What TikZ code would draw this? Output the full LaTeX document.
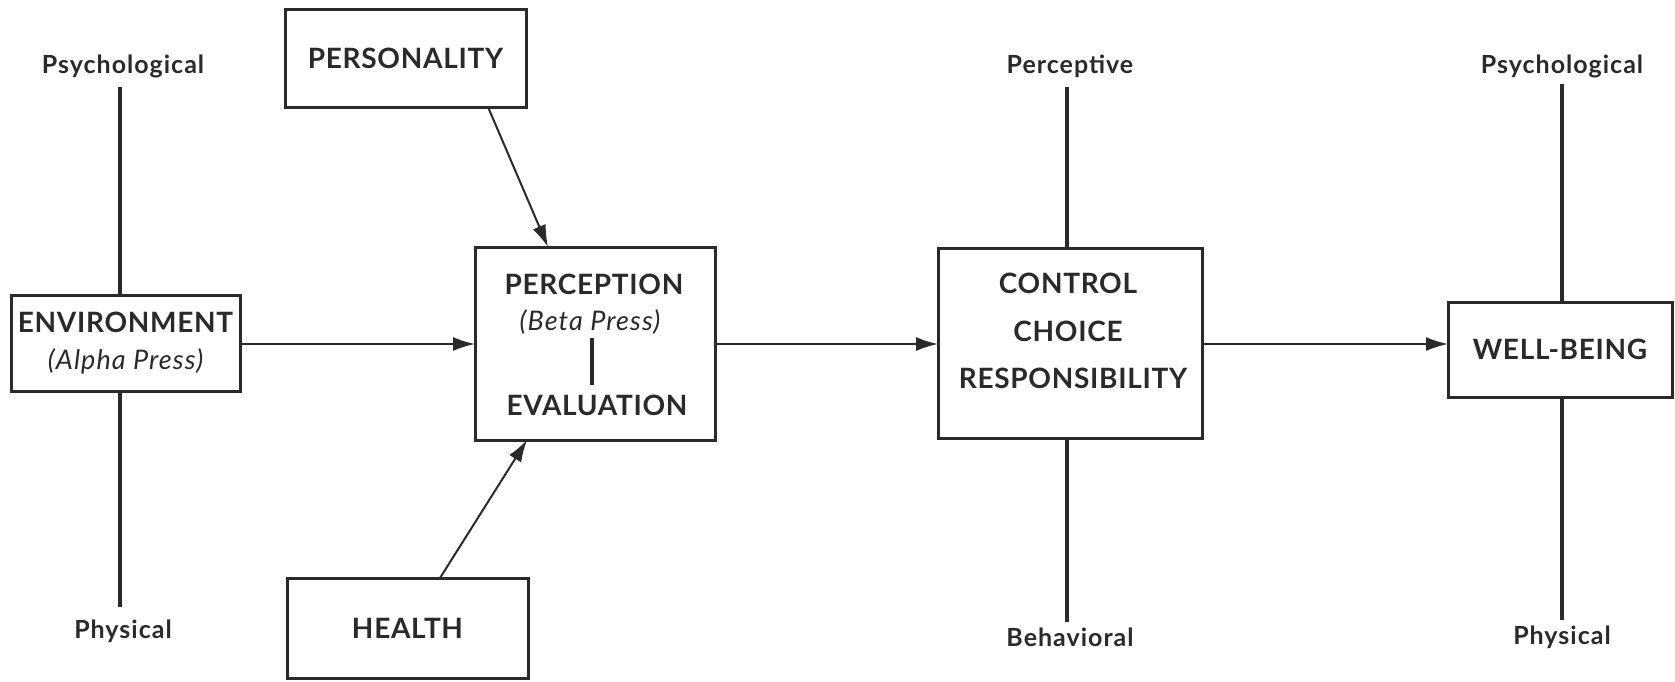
\documentclass[tikz,border=0pt]{standalone}
\usepackage{fontspec}
\setmainfont{Lato}
\usetikzlibrary{arrows.meta}
\definecolor{ink}{HTML}{2A2A2A}
\newfontfamily\capfont[LetterSpace=2.5]{Lato}
\newfontfamily\subfont[LetterSpace=4]{Lato}
\tikzset{
  box/.style={draw=ink, line width=3pt, fill=white, inner sep=0pt, outer sep=0pt, font=\capfont\bfseries\fontsize{28}{32}\selectfont, text=ink, align=center},
  captxt/.style={inner sep=0pt, font=\capfont\bfseries\fontsize{28}{32}\selectfont, text=ink},
  subtxt/.style={inner sep=0pt, font=\subfont\itshape\fontsize{27}{32}\selectfont, text=ink},
  labtxt/.style={inner sep=0pt, font=\subfont\bfseries\fontsize{25}{30}\selectfont, text=ink},
  axisline/.style={draw=ink, line width=3.2pt},
  arr/.style={draw=ink, line width=2pt, -{Latex[length=22pt,width=14pt]}},
}
\begin{document}
\begin{tikzpicture}[x=1pt,y=-1pt]
\useasboundingbox (0,0) rectangle (1675,681);
% boxes
\node[box, minimum width=229pt, minimum height=96pt] (env) at (125.5,343) {};
\node[captxt] (envT) at (125.5,322) {ENVIRONMENT};
\node[subtxt] (envS) at (125.5,361) {(Alpha Press)};
\node[box, minimum width=240pt, minimum height=193pt] (perc) at (595,343.5) {};
\node[captxt] (percT) at (594,284) {PERCEPTION};
\node[subtxt] (percS) at (590,322) {(Beta Press)};
\node[captxt] (evalT) at (597,405) {EVALUATION};
\node[box, minimum width=264pt, minimum height=190pt] (ctrl) at (1070,343) {};
\node[captxt] (c1) at (1068,283) {CONTROL};
\node[captxt] (c2) at (1068,331) {CHOICE};
\node[captxt] (c3) at (1073,378) {RESPONSIBILITY};
\node[box, minimum width=224pt, minimum height=95pt] (well) at (1560,349.5) {WELL-BEING};
\node[box, minimum width=241pt, minimum height=98pt] (pers) at (405.5,58) {PERSONALITY};
\node[box, minimum width=241pt, minimum height=100pt] (health) at (407.5,628) {HEALTH};
% bar between perception and evaluation
\coordinate (barB) at ([xshift=2pt]percS.south |- evalT.north);
\draw[draw=ink, line width=4pt] ([xshift=2pt,yshift=-3pt]percS.south) -- ([yshift=9pt]barB);
% labels
\node[labtxt] (psyL) at (123,66) {Psychological};
\node[labtxt] (phyL) at (123,631) {Physical};
\node[labtxt] (percep) at (1070,66) {Perceptive};
\node[labtxt] (behav) at (1070,637) {Behavioral};
\node[labtxt] (psyR) at (1562,66) {Psychological};
\node[labtxt] (phyR) at (1562,637) {Physical};
% axes
\draw[axisline] (120,87) coordinate (a1) -- (a1 |- env.north);
\draw[axisline] (120,607) coordinate (a2) -- (a2 |- env.south);
\draw[axisline] (1067,87) coordinate (a3) -- (a3 |- ctrl.north);
\draw[axisline] (1067,622) coordinate (a4) -- (a4 |- ctrl.south);
\draw[axisline] (1562,84) coordinate (a5) -- (a5 |- well.north);
\draw[axisline] (1562,620) coordinate (a6) -- (a6 |- well.south);
% arrows
\draw[arr] (env.east |- 0,344) -- (perc.west |- 0,344);
\draw[arr] (perc.east |- 0,344) -- (ctrl.west |- 0,344);
\draw[arr] (ctrl.east |- 0,344) -- (well.west |- 0,344);
\draw[arr] ([xshift=-38pt]pers.south east) -- ([xshift=73pt]perc.north west);
\draw[arr] ([xshift=153pt]health.north west) -- ([xshift=52pt]perc.south west);
\end{tikzpicture}
\end{document}
